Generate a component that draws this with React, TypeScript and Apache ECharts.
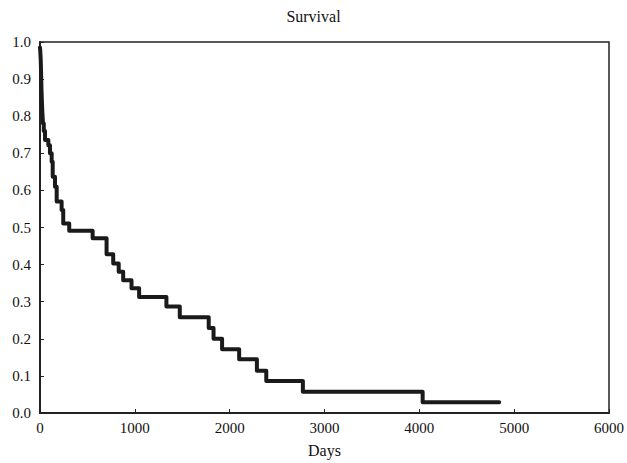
import React, { useEffect, useRef } from "react";
import * as echarts from "echarts";

const days = [0, 3, 8, 12, 16, 20, 25, 32, 40, 53, 88, 105, 123, 134, 158, 176, 228, 245, 308, 555, 702, 772, 830, 877, 965, 1045, 1333, 1474, 1779, 1830, 1920, 2100, 2287, 2386, 2772, 4035, 4842];
const survival = [0.985, 0.975, 0.95, 0.91, 0.87, 0.84, 0.81, 0.78, 0.76, 0.736, 0.722, 0.70, 0.677, 0.637, 0.61, 0.57, 0.547, 0.511, 0.491, 0.471, 0.428, 0.403, 0.381, 0.358, 0.336, 0.313, 0.287, 0.258, 0.229, 0.2, 0.172, 0.145, 0.114, 0.086, 0.057, 0.029, 0.029];

const title = "Survival";
const xName = "Days";

export default function App() {
  const ref = useRef<HTMLDivElement>(null);
  useEffect(() => {
    if (!ref.current) return;
    const chart = echarts.init(ref.current, null, { renderer: "svg" });
    const font = "'Liberation Serif', 'DejaVu Serif', serif";
    chart.setOption({
      animation: false,
      backgroundColor: "#fff",
      textStyle: { fontFamily: font },
      title: {
        text: title,
        left: "center",
        top: 3,
        textStyle: { fontFamily: font, fontSize: 16, fontWeight: "normal", color: "#111" },
      },
      grid: {
        left: 40,
        top: 42,
        width: 570,
        height: 371,
        show: true,
        borderColor: "#222",
        borderWidth: 1.5,
        backgroundColor: "transparent",
      },
      xAxis: {
        type: "value",
        min: 0,
        max: 6000,
        interval: 1000,
        name: xName,
        nameLocation: "middle",
        nameGap: 29,
        nameTextStyle: { fontFamily: font, fontSize: 16, color: "#111" },
        axisLine: { show: true, lineStyle: { color: "#222", width: 2 } },
        axisTick: { show: true, inside: true, length: 4, lineStyle: { color: "#222", width: 1 } },
        axisLabel: {
          fontFamily: font,
          fontSize: 15,
          color: "#111",
          margin: 7,
          formatter: (v: number) => String(v),
        },
        splitLine: { show: false },
      },
      yAxis: {
        type: "value",
        min: 0,
        max: 1,
        interval: 0.1,
        axisLine: { show: true, lineStyle: { color: "#222", width: 2 } },
        axisTick: { show: true, inside: true, length: 4, lineStyle: { color: "#222", width: 1 } },
        axisLabel: {
          fontFamily: font,
          fontSize: 15,
          color: "#111",
          margin: 9,
          formatter: (v: number) => v.toFixed(1),
        },
        splitLine: { show: false },
      },
      series: [
        {
          type: "line",
          step: "end",
          data: days.map((d, i) => [d, survival[i]]),
          showSymbol: false,
          lineStyle: { color: "#1a1a1a", width: 4, cap: "round", join: "round" },
          clip: true,
        },
      ],
    });
    return () => chart.dispose();
  }, []);
  return (
    <div
      ref={ref}
      style={{ position: "absolute", left: 0, top: 0, width: 627, height: 463 }}
    />
  );
}
